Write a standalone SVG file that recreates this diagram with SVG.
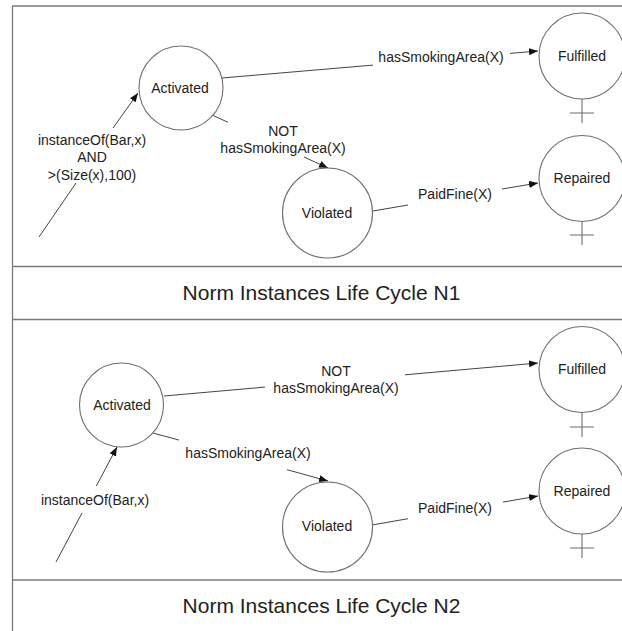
<svg xmlns="http://www.w3.org/2000/svg" width="622" height="631" viewBox="0 0 622 631">
<style>
.frame{stroke:#7a7a7a;stroke-width:1.3;fill:none}
.st{fill:#fff;stroke:#6e6e6e;stroke-width:1.1}
.cross{stroke:#6e6e6e;stroke-width:1.1;fill:none}
.edge{stroke:#444;stroke-width:1;fill:none;marker-end:url(#arr)}
text{font-family:"Liberation Sans",Arial,sans-serif;font-size:14px;fill:#222;text-anchor:middle}
.title{font-size:21px}
</style>
<defs>
<marker id="arr" markerUnits="userSpaceOnUse" markerWidth="10" markerHeight="8" refX="9" refY="3.5" orient="auto">
<path d="M0,0 L9,3.5 L0,7 z" fill="#111"/>
</marker>
</defs>
<rect width="622" height="631" fill="#fff"/>
<g id="frame">
<line class="frame" x1="12.5" y1="6" x2="12.5" y2="631"/>
<line class="frame" x1="12" y1="6" x2="622" y2="6"/>
<line class="frame" x1="12" y1="266.5" x2="622" y2="266.5"/>
<line class="frame" x1="12" y1="319.5" x2="622" y2="319.5"/>
<line class="frame" x1="12" y1="580" x2="622" y2="580"/>
</g>
<g id="connectors">
<path class="edge" d="M39,237 L76,183 M113,128 L138,93"/>
<path class="edge" d="M222,78 L373,65.1 M510,53.4 L538,51"/>
<path class="edge" d="M212,115 L228,122.3 M304,157 L328,168"/>
<path class="edge" d="M373,211 L408,205 M502,189 L538,183"/>
<path class="edge" d="M56,562 L82,513 M96.3,486 L117,447"/>
<path class="edge" d="M164,396 L265,387.1 M405,374.8 L538,363"/>
<path class="edge" d="M153,433 L179,440.1 M287,469.7 L328,481"/>
<path class="edge" d="M372,525 L408,518.7 M503,502.1 L538,496"/>
</g>
<g id="labels">
<text x="92" y="145">instanceOf(Bar,x)</text>
<text x="92" y="162">AND</text>
<text x="92" y="180">&gt;(Size(x),100)</text>
<text x="441" y="62">hasSmokingArea(X)</text>
<text x="283" y="136">NOT</text>
<text x="283" y="153">hasSmokingArea(X)</text>
<text x="455" y="199">PaidFine(X)</text>
<text x="95" y="505">instanceOf(Bar,x)</text>
<text x="336" y="376">NOT</text>
<text x="336" y="393">hasSmokingArea(X)</text>
<text x="248" y="458">hasSmokingArea(X)</text>
<text x="455" y="513">PaidFine(X)</text>
</g>
<g id="n1-activated"><circle class="st" cx="181" cy="88" r="42"/><text x="180" y="93">Activated</text></g>
<g id="n1-fulfilled"><circle class="st" cx="582" cy="56" r="43"/><path class="cross" d="M582,99 V123 M570,113 H594"/><text x="582" y="61">Fulfilled</text></g>
<g id="n1-repaired"><circle class="st" cx="582" cy="178.5" r="43"/><path class="cross" d="M582,221.5 V245 M570,235 H594"/><text x="582" y="183">Repaired</text></g>
<g id="n1-violated"><circle class="st" cx="327.5" cy="213" r="45"/><text x="327" y="218">Violated</text></g>
<g id="n1-title"><text class="title" x="321.5" y="300">Norm Instances Life Cycle N1</text></g>
<g id="n2-activated"><circle class="st" cx="121.5" cy="405" r="42"/><text x="122" y="410">Activated</text></g>
<g id="n2-fulfilled"><circle class="st" cx="582" cy="369.5" r="43"/><path class="cross" d="M582,412.5 V437 M570,427 H594"/><text x="582" y="374">Fulfilled</text></g>
<g id="n2-repaired"><circle class="st" cx="582" cy="491" r="43"/><path class="cross" d="M582,534 V558 M570,548 H594"/><text x="582" y="496">Repaired</text></g>
<g id="n2-violated"><circle class="st" cx="327.5" cy="527" r="45"/><text x="327" y="531">Violated</text></g>
<g id="n2-title"><text class="title" x="321.5" y="613">Norm Instances Life Cycle N2</text></g>
</svg>
